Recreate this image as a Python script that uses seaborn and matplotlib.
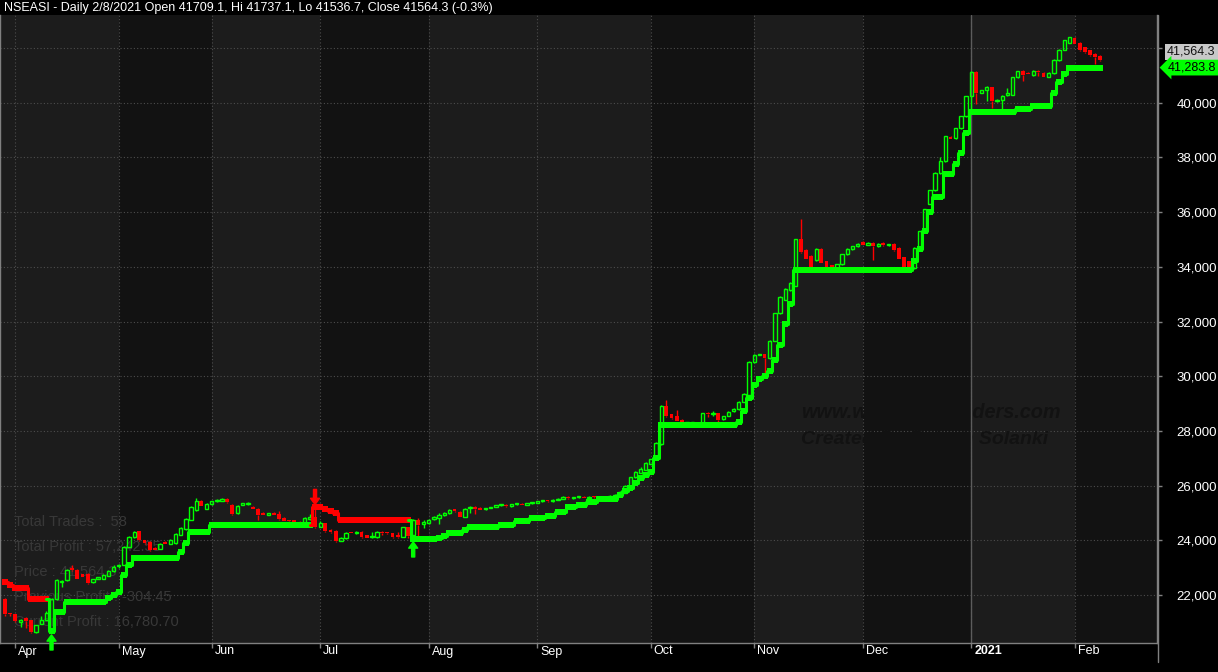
import numpy as np
import pandas as pd
import matplotlib
matplotlib.use("Agg")
import matplotlib.pyplot as plt
import matplotlib.transforms as mtransforms
from matplotlib.lines import Line2D
import seaborn as sns

GREEN = '#00ff00'
RED = '#ff0000'
BAND_LIGHT = '#1c1c1c'
BAND_DARK = '#121212'
GRID = '#4d4d4d'
AXIS = '#808080'

sns.set_theme(style='dark', rc={
    'figure.facecolor': 'black',
    'axes.facecolor': BAND_DARK,
    'axes.edgecolor': AXIS,
    'text.color': 'white',
})
plt.rcParams['font.family'] = ['Liberation Sans', 'DejaVu Sans']

# ---- daily bars, 30 Mar 2020 .. 8 Feb 2021 ----
opens = [
    21850, 21320,  # Mar
    21300, 21020, 21150, 21080, 20650, 20950, 21100, 20700, 21850, 22480,
    22550, 22980, 22920, 22760, 22770, 22470, 22600, 22590, 22700, 22860,  # Apr
    23050, 23100, 23760, 24120, 24330, 24000, 23940, 23720, 23700, 23920,
    23870, 23900, 24200, 24400, 24750, 25100, 25430, 25150,  # May
    25310, 25420, 25440, 25520, 25300, 24980, 25300, 25320, 25230, 25160,
    25000, 24940, 25000, 24950, 24830, 24740, 24740, 24680, 24590, 24780, 24870,  # Jun
    24500, 24630, 24380, 24350, 23990, 24080, 24300, 24260, 24320, 24190,
    24120, 24110, 24320, 24300, 24250, 24180, 24130, 24480, 24200, 24750, 24600,  # Jul
    24620, 24770, 24800, 24920, 24980, 25130, 25050, 24870, 25180, 25220,
    25180, 25130, 25190, 25220, 25280, 25290, 25250, 25310, 25330, 25300, 25350,  # Aug
    25380, 25420, 25460, 25430, 25480, 25520, 25600, 25540, 25570, 25600,
    25560, 25600, 25560, 25510, 25580, 25540, 25630, 25740, 25880, 26310, 26470, 26580,  # Sep
    26800, 27040, 27520, 28910, 28600, 28540, 28400, 28280, 28280, 28320,
    28290, 28650, 28610, 28650, 28430, 28560, 28710, 28800, 29070, 29300,  # Oct
    30520, 30780, 30800, 30650, 31300, 32300, 32800, 33150, 33300, 35000,
    34600, 34400, 34250, 34650, 34200, 34050, 33950, 34100, 34450, 34650, 34750,  # Nov
    34900, 34800, 34880, 34750, 34870, 34780, 34850, 34700, 34350, 34200,
    33950, 34700, 35300, 36300, 36800, 37430, 37870, 38750, 38710, 39060, 39510,  # Dec
    40250, 41120, 40370, 40480, 40560, 40050, 40100, 40280, 40290, 40930,
    41170, 41100, 41010, 41170, 41090, 40950, 41070, 41560, 41930, 42200,  # Jan
    42360, 42200, 42030, 41920, 41780, 41709.1,  # Feb
]
highs = [
    21900, 21350,
    21320, 21130, 21200, 21100, 20920, 21250, 21400, 21900, 22600, 22560,
    22950, 23080, 22950, 22780, 22800, 22600, 22650, 22750, 22900, 23100,
    23150, 23800, 24150, 24330, 24350, 24020, 23960, 23740, 23900, 23960,
    24040, 24250, 24480, 24800, 25250, 25550, 25460, 25350,
    25450, 25500, 25560, 25540, 25320, 25280, 25380, 25400, 25260, 25180,
    25020, 25010, 25020, 25080, 24850, 24760, 24760, 24700, 24850, 24950, 25200,
    24700, 24650, 24400, 24370, 24110, 24320, 24320, 24340, 24340, 24210,
    24290, 24340, 24340, 24320, 24270, 24300, 24500, 24500, 24780, 24800, 24750,
    24770, 24880, 24980, 25050, 25140, 25150, 25070, 25170, 25250, 25240,
    25200, 25190, 25230, 25300, 25320, 25310, 25330, 25350, 25350, 25370, 25400,
    25440, 25480, 25480, 25500, 25540, 25620, 25620, 25590, 25620, 25620,
    25620, 25620, 25580, 25600, 25640, 25680, 25790, 26010, 26330, 26520, 26680, 26850,
    26990, 27580, 28930, 29130, 28620, 28760, 28420, 28330, 28330, 28340,
    28670, 28700, 28720, 28670, 28560, 28710, 28820, 29090, 29370, 30540,
    30800, 30830, 30820, 31320, 32320, 32920, 33220, 33450, 35020, 35750,
    34650, 34420, 34670, 34680, 34220, 34070, 34120, 34470, 34670, 34770, 34870,
    34950, 34900, 34900, 34870, 34890, 34840, 34870, 34720, 34370, 34220,
    34720, 35320, 36120, 36820, 37450, 38000, 38800, 38780, 39080, 39530, 40260,
    41150, 41150, 40480, 40600, 40580, 40130, 40270, 40550, 40950, 41170,
    41190, 41120, 41190, 41190, 41110, 41110, 41580, 41950, 42300, 42420,
    42420, 42220, 42050, 41940, 41800, 41737.1,
]
lows = [
    21250, 21250,
    21000, 20830, 20800, 20620, 20600, 20930, 21080, 20650, 21800, 22300,
    22520, 22880, 22580, 22640, 22420, 22450, 22580, 22570, 22680, 22840,
    23000, 23080, 23740, 24100, 23990, 23880, 23600, 23640, 23690, 23850,
    23860, 23880, 24180, 24380, 24730, 25080, 25250, 25130,
    25300, 25400, 25420, 25370, 24920, 24960, 25280, 25300, 25130, 24750,
    24920, 24920, 24910, 24760, 24700, 24680, 24570, 24600, 24570, 24760, 24460,
    24480, 24320, 24280, 23950, 23970, 24060, 24250, 24240, 24090, 24080,
    24100, 24090, 24200, 24230, 24100, 24100, 24110, 24100, 24050, 24150, 24450,
    24600, 24750, 24600, 24900, 24960, 25040, 24850, 24850, 24980, 24950,
    25100, 25110, 25170, 25200, 25260, 25230, 25230, 25290, 25280, 25280, 25330,
    25360, 25400, 25410, 25410, 25460, 25500, 25520, 25520, 25550, 25540,
    25540, 25560, 25510, 25500, 25560, 25520, 25610, 25720, 25860, 26290, 26450, 26560,
    26780, 27020, 27500, 28520, 28450, 28350, 28280, 28260, 28260, 28250,
    28270, 28520, 28560, 28290, 28410, 28540, 28690, 28780, 29050, 29280,
    30500, 30760, 29950, 30630, 31280, 32280, 32780, 33130, 33280, 34500,
    34280, 33930, 34230, 34130, 33930, 33920, 33930, 34080, 34430, 34630, 34730,
    34780, 34780, 34250, 34730, 34760, 34760, 34580, 34280, 33930, 33930,
    33930, 34680, 35280, 36280, 36780, 37410, 37850, 38670, 38690, 39040, 39490,
    39700, 39950, 40350, 40050, 39800, 40030, 39700, 40260, 40270, 40910,
    40800, 41040, 40990, 40990, 40930, 40930, 41050, 41540, 41910, 42180,
    42130, 41900, 41830, 41720, 41400, 41536.7,
]
closes = [
    21300, 21290,
    21050, 21100, 21060, 20660, 20900, 21100, 21350, 21850, 22550, 22520,
    22900, 22900, 22600, 22660, 22440, 22580, 22620, 22730, 22880, 23040,
    23110, 23760, 24120, 24300, 24010, 23900, 23650, 23660, 23880, 23870,
    24020, 24230, 24450, 24780, 25220, 25420, 25270, 25330,
    25420, 25480, 25520, 25390, 24950, 25260, 25360, 25380, 25150, 24930,
    24940, 24990, 24930, 24780, 24720, 24700, 24590, 24620, 24830, 24870, 24480,
    24630, 24340, 24300, 23970, 24090, 24280, 24270, 24320, 24130, 24100,
    24170, 24320, 24270, 24250, 24120, 24120, 24480, 24150, 24750, 24570, 24660,
    24750, 24860, 24920, 25000, 25120, 25060, 24870, 25150, 25230, 25150,
    25120, 25170, 25210, 25280, 25300, 25250, 25310, 25330, 25300, 25350, 25380,
    25420, 25460, 25430, 25480, 25520, 25600, 25540, 25570, 25600, 25560,
    25600, 25580, 25530, 25580, 25620, 25660, 25770, 25990, 26310, 26500, 26600, 26830,
    26970, 27560, 28910, 28540, 28470, 28370, 28300, 28310, 28310, 28270,
    28650, 28600, 28650, 28400, 28540, 28690, 28800, 29070, 29350, 30520,
    30780, 30800, 30650, 31300, 32300, 32900, 33200, 33400, 35000, 34550,
    34300, 33950, 34650, 34150, 33950, 33950, 34100, 34450, 34650, 34750, 34850,
    34800, 34880, 34750, 34850, 34780, 34820, 34600, 34300, 33950, 33950,
    34700, 35300, 36100, 36800, 37430, 37870, 38780, 38690, 39060, 39510, 40240,
    41120, 40370, 40460, 40560, 40070, 40110, 40250, 40360, 40930, 41150,
    41010, 41060, 41170, 41110, 40950, 41090, 41560, 41930, 42280, 42400,
    42150, 41920, 41850, 41740, 41660, 41564.3,
]
# trailing stop level
stops = [
    22470, 22370,
    22250, 22250, 22250, 21850, 21850, 21850, 21850, 20700, 21380, 21380,
    21750, 21750, 21750, 21750, 21750, 21750, 21750, 21750, 21880, 22000,
    22110, 22730, 23100, 23350, 23350, 23350, 23350, 23350, 23350, 23350,
    23350, 23350, 23570, 23900, 24300, 24300, 24300, 24300,
    24550, 24550, 24550, 24550, 24550, 24550, 24550, 24550, 24550, 24550,
    24550, 24550, 24550, 24550, 24550, 24550, 24550, 24550, 24550, 24550, 25200,
    25200, 25130, 25060, 24990, 24760, 24760, 24760, 24760, 24760, 24760,
    24760, 24760, 24760, 24760, 24760, 24760, 24760, 24760, 24030, 24030, 24030,
    24030, 24030, 24100, 24170, 24250, 24250, 24250, 24370, 24480, 24480,
    24480, 24480, 24480, 24480, 24560, 24560, 24560, 24700, 24700, 24700, 24800,
    24800, 24800, 24900, 24900, 25050, 25050, 25200, 25200, 25300, 25300,
    25400, 25400, 25500, 25500, 25500, 25500, 25650, 25800, 25910, 26100, 26270, 26390,
    26500, 27000, 28215, 28215, 28215, 28215, 28215, 28215, 28215, 28215,
    28215, 28215, 28215, 28215, 28215, 28215, 28215, 28320, 28730, 29200,
    29680, 29900, 30000, 30200, 30600, 31150, 31900, 32650, 33880, 33880,
    33880, 33880, 33880, 33880, 33880, 33880, 33880, 33880, 33880, 33880, 33880,
    33880, 33880, 33880, 33880, 33880, 33880, 33880, 33880, 33880, 33880,
    34200, 34650, 35300, 36000, 36550, 36550, 37390, 37390, 37750, 38150, 38880,
    39650, 39650, 39650, 39650, 39650, 39650, 39650, 39650, 39650, 39760,
    39760, 39760, 39880, 39880, 39880, 39880, 40340, 40770, 41040, 41283.8,
    41283.8, 41283.8, 41283.8, 41283.8, 41283.8, 41283.8,
]
buy_bars = [9, 79]
sell_bars = [60]

holidays = ['2020-04-10', '2020-04-13', '2020-05-01', '2020-05-25', '2020-05-26',
            '2020-06-12', '2020-07-30', '2020-07-31', '2020-10-01', '2020-10-29',
            '2020-12-25', '2020-12-28', '2021-01-01']
# shading of each month band, Mar .. Feb
band_light = [True, True, False, True, False, True, True, False, True, False, True, False]

stats_lines = ['Total Trades :  58', 'Total Profit : 57,242.55', 'Price : 41,564.3',
               'Previous Profit : -304.45', 'Current Profit : 16,780.70']
title = 'NSEASI - Daily 2/8/2021 Open 41709.1, Hi 41737.1, Lo 41536.7, Close 41564.3 (-0.3%)'

dates = pd.bdate_range('2020-03-30', '2021-02-08')
dates = dates[~dates.isin(pd.to_datetime(holidays))]

df = pd.DataFrame({'date': dates, 'open': opens, 'high': highs, 'low': lows,
                   'close': closes, 'stop': stops})
df['bar'] = np.arange(len(df), dtype=float)
n = len(df)

fig = plt.figure(figsize=(12.18, 6.72), dpi=100)
ax = fig.add_axes([0, 29 / 672, 1157 / 1218, 628 / 672])
x_lo, x_hi = -0.97, 222.96
ax.set_xlim(x_lo, x_hi)
ax.set_ylim(20245, 43207)

# month bands
per = df['date'].dt.to_period('M')
starts = df.index[per != per.shift()].tolist()
for k, s in enumerate(starts):
    a = x_lo if k == 0 else s
    b = starts[k + 1] if k + 1 < len(starts) else x_hi
    ax.axvspan(a, b, color=BAND_LIGHT if band_light[k] else BAND_DARK, lw=0, zorder=0)

# watermark (same tone as the dark band)
ax.text(801 / 1157, (643 - 412) / 628, 'www.wisestocktraders.com', transform=ax.transAxes,
        fontsize=14.3, fontweight='bold', style='italic', color=BAND_DARK, va='center', zorder=0.7)
ax.text(801 / 1157, (643 - 439) / 628, 'Created By Rajesh Solanki', transform=ax.transAxes,
        fontsize=14, fontweight='bold', style='italic', color=BAND_DARK, va='center', zorder=0.7)

# stats
for k, line in enumerate(stats_lines):
    ax.text(14 / 1157, (643 - (522 + 25 * k)) / 628, line, transform=ax.transAxes,
            fontsize=10.5, color='#383838', va='center', zorder=0.8)

# grid
ax.set_axisbelow(True)
ax.grid(True, color=GRID, linestyle=(0, (1, 2)), lw=0.8)
for s in starts[1:]:
    if df['date'][s].month == 1:
        ax.axvline(s, color='#5c5c5c', lw=1, zorder=0.9)

# candles
o, h, l, c, xb = (df['open'].values, df['high'].values, df['low'].values,
                  df['close'].values, df['bar'].values)
up = c >= o
top = np.maximum(o, c)
bot = np.minimum(o, c)
col = np.where(up, GREEN, RED)
ax.vlines(xb, top, h, colors=col, lw=1, zorder=3)
ax.vlines(xb, l, bot, colors=col, lw=1, zorder=3)
hgt = np.maximum(top - bot, 40)
ax.bar(xb[~up], hgt[~up], bottom=bot[~up], width=0.74, color=RED, lw=0, zorder=3)
ax.bar(xb[up], hgt[up], bottom=bot[up], width=0.64, fill=False, edgecolor=GREEN, lw=1.0, zorder=3)

# trailing stop, coloured by position side
bounds = [0] + sorted(buy_bars + sell_bars) + [n]
for k in range(len(bounds) - 1):
    s, e = bounds[k], bounds[k + 1]
    colr = GREEN if s in buy_bars else RED
    lo = max(s - 1, 0)
    seg = df.iloc[lo:e]
    sns.lineplot(data=seg, x='bar', y='stop', ax=ax, color=colr, lw=2.2,
                 drawstyle='steps-mid', estimator=None, sort=False, legend=False,
                 marker='s', markersize=4, markeredgewidth=0,
                 markevery=slice(s - lo, None), zorder=4)

# signal arrows
for b in buy_bars:
    a = ax.annotate('', xy=(b, lows[b]), xytext=(0, -21), textcoords='offset pixels',
                    arrowprops=dict(facecolor=GREEN, edgecolor=GREEN, width=2.2,
                                    headwidth=6.5, headlength=4.5, shrink=0.14),
                    annotation_clip=False, zorder=5)
    a.arrow_patch.set_clip_on(False)
for b in sell_bars:
    a = ax.annotate('', xy=(b, highs[b]), xytext=(0, 21), textcoords='offset pixels',
                    arrowprops=dict(facecolor=RED, edgecolor=RED, width=2.2,
                                    headwidth=6.5, headlength=4.5, shrink=0.14),
                    annotation_clip=False, zorder=5)
    a.arrow_patch.set_clip_on(False)

# axes styling
ax.spines['top'].set_visible(False)
for side in ['left', 'right', 'bottom']:
    ax.spines[side].set_color(AXIS)
    ax.spines[side].set_linewidth(1)

yt = np.arange(22000, 42001, 2000)
ax.set_yticks(yt, labels=[f'{v:,.0f}' for v in yt])
ax.yaxis.tick_right()
ax.tick_params(axis='y', right=True, left=False, length=3.6, width=1, color=AXIS,
               pad=39.6, labelsize=9.5, labelcolor='white')
for lab in ax.get_yticklabels():
    lab.set_horizontalalignment('right')

mlabels = ['2021' if df['date'][s].month == 1 else df['date'][s].strftime('%b') for s in starts[1:]]
ax.set_xticks(starts[1:], labels=mlabels)
ax.tick_params(axis='x', bottom=True, length=3.6, width=1, color=AXIS, pad=0,
               labelsize=9, labelcolor='white')
shift = mtransforms.ScaledTranslation(3 / 100, 2.5 / 100, fig.dpi_scale_trans)
for lab in ax.get_xticklabels():
    lab.set_horizontalalignment('left')
    lab.set_transform(lab.get_transform() + shift)
    if lab.get_text() == '2021':
        lab.set_fontweight('bold')
ax.set_xlabel('')
ax.set_ylabel('')

# last close / stop value tags
ax.annotate(f'{closes[-1]:,.1f}', xy=(1, closes[-1]), xycoords=ax.get_yaxis_transform(),
            xytext=(10, 8), textcoords='offset pixels', ha='left', va='center',
            fontsize=9, color='#111111', annotation_clip=False, zorder=10,
            bbox=dict(boxstyle='square,pad=0.18', fc='#c8c8c8', ec='none'))
ax.annotate(f'{stops[-1]:,.1f}', xy=(1, stops[-1]), xycoords=ax.get_yaxis_transform(),
            xytext=(11, 0), textcoords='offset pixels', ha='left', va='center',
            fontsize=9, color='#000000', annotation_clip=False, zorder=10,
            bbox=dict(boxstyle='larrow,pad=0.15', fc=GREEN, ec='none'))

fig.add_artist(Line2D([1157.5 / 1218] * 2, [1 - 15 / 672, 1 - 662 / 672], color=AXIS, lw=1))
fig.text(4 / 1218, 1 - 8.5 / 672, title, ha='left', va='center', fontsize=9, color='white')

fig.savefig('out.png', dpi=100, facecolor='black')
